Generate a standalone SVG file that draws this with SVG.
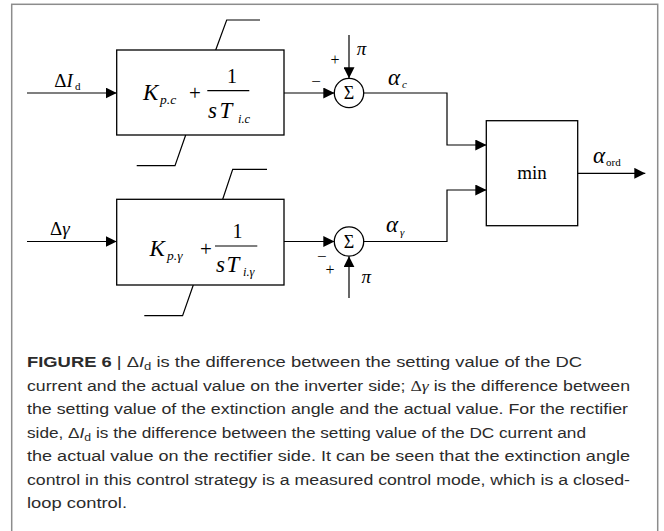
<svg xmlns="http://www.w3.org/2000/svg" width="664" height="531" viewBox="0 0 664 531">
<style>
.frame{fill:none;stroke:#8c8c8c;stroke-width:1.5}
.box{fill:#fff;stroke:#000;stroke-width:1.3}
.ln{fill:none;stroke:#000;stroke-width:1.2}
.arr{fill:none;stroke:#000;stroke-width:1.2;marker-end:url(#ah)}
.m{font-family:"Liberation Serif","DejaVu Serif",serif;fill:#000}
.i{font-style:italic}
.cap{font-family:"Liberation Sans",Arial,sans-serif;font-size:15.5px;fill:#2b2b2b}
.capm{font-family:"Liberation Serif",serif}
</style>
<defs>
<marker id="ah" markerWidth="11" markerHeight="11" refX="11" refY="5.5" orient="auto" markerUnits="userSpaceOnUse">
<path d="M0,0 L11,5.5 L0,11 z" fill="#000"/>
</marker>
</defs>
<rect class="frame" x="11.7" y="4.3" width="646" height="540"/>

<g id="connectors">
<line class="arr" x1="27" y1="93" x2="116.7" y2="93"/>
<line class="arr" x1="27" y1="241.5" x2="116.7" y2="241.5"/>
<line class="arr" x1="284" y1="93" x2="334.3" y2="93"/>
<line class="arr" x1="284" y1="241.5" x2="334.3" y2="241.5"/>
<line class="arr" x1="349" y1="35" x2="349" y2="78.3"/>
<line class="arr" x1="349" y1="298" x2="349" y2="256.2"/>
<polyline class="arr" points="363.7,93 447,93 447,145 486.3,145"/>
<polyline class="arr" points="363.7,241.5 447,241.5 447,190 486.3,190"/>
<line class="arr" x1="577.7" y1="173.3" x2="645.3" y2="173.3"/>
<polyline class="ln" points="215.7,50 226.7,20 260,20"/>
<polyline class="ln" points="185.7,135 175,165.7 136.7,165.7"/>
<polyline class="ln" points="222.7,199.3 232.7,169.3 267,169.3"/>
<polyline class="ln" points="193.3,285 182.6,315.7 144.3,315.7"/>
</g>

<g id="label-dId">
<text class="m" x="54.3" y="87" font-size="19">Δ<tspan class="i">I</tspan></text>
<text class="m" x="75" y="89.5" font-size="11">d</text>
</g>
<g id="label-dgamma">
<text class="m" x="50" y="235" font-size="19">Δ<tspan class="i">γ</tspan></text>
</g>

<g id="pi-current">
<rect class="box" x="116.7" y="50" width="167.3" height="85"/>
<text class="m i" x="143" y="100" font-size="23">K</text>
<text class="m i" x="160" y="104" font-size="13.5">p.c</text>
<text class="m" x="195" y="100" font-size="21" text-anchor="middle">+</text>
<text class="m" x="227" y="83.3" font-size="20">1</text>
<line class="ln" x1="207.3" y1="90.7" x2="249.3" y2="90.7"/>
<text class="m i" x="208" y="118.3" font-size="23" letter-spacing="2.5">sT</text>
<text class="m i" x="238" y="122.7" font-size="12.5">i.c</text>
</g>

<g id="pi-gamma">
<rect class="box" x="116.7" y="199.3" width="167.3" height="85.7"/>
<text class="m i" x="149.5" y="256" font-size="23">K</text>
<text class="m i" x="167" y="260" font-size="13.5">p.γ</text>
<text class="m" x="206" y="256" font-size="21" text-anchor="middle">+</text>
<text class="m" x="232.5" y="238.3" font-size="20">1</text>
<line class="ln" x1="215" y1="246" x2="257.3" y2="246"/>
<text class="m i" x="216" y="271.7" font-size="23" letter-spacing="1.5">sT</text>
<text class="m i" x="243" y="276" font-size="12.5">i.γ</text>
</g>

<g id="sum-current">
<circle class="box" cx="349" cy="93" r="14.7"/>
<text class="m" x="349" y="99" font-size="18" text-anchor="middle">Σ</text>
<text class="m" x="335" y="65" font-size="16" text-anchor="middle">+</text>
<text class="m i" x="356.7" y="55" font-size="19">π</text>
<text class="m" x="316" y="87" font-size="17" text-anchor="middle">−</text>
<text class="m i" x="388" y="85" font-size="23">α</text>
<text class="m i" x="402" y="88" font-size="11">c</text>
</g>

<g id="sum-gamma">
<circle class="box" cx="349" cy="241.5" r="14.7"/>
<text class="m" x="349" y="247.5" font-size="18" text-anchor="middle">Σ</text>
<text class="m" x="321.7" y="262" font-size="17" text-anchor="middle">−</text>
<text class="m" x="330" y="275" font-size="16" text-anchor="middle">+</text>
<text class="m i" x="361.5" y="283" font-size="19">π</text>
<text class="m i" x="386" y="232" font-size="23">α</text>
<text class="m i" x="400" y="236" font-size="11">γ</text>
</g>

<g id="min">
<rect class="box" x="486.3" y="120.7" width="91.4" height="105"/>
<text class="m" x="532" y="179" font-size="19" text-anchor="middle">min</text>
<text class="m i" x="593" y="163" font-size="23">α</text>
<text class="m" x="606" y="166" font-size="11">ord</text>
</g>

<g id="caption">
<text class="cap" x="27" y="367" textLength="555" lengthAdjust="spacingAndGlyphs"><tspan font-weight="bold">FIGURE 6</tspan> | Δ<tspan font-style="italic">I</tspan><tspan font-size="11" dy="3">d</tspan><tspan dy="-3"> is the difference between the setting value of the DC</tspan></text>
<text class="cap" x="27" y="390.5" textLength="603" lengthAdjust="spacingAndGlyphs">current and the actual value on the inverter side; <tspan class="capm">Δ<tspan font-style="italic">γ</tspan></tspan> is the difference between</text>
<text class="cap" x="27" y="414" textLength="601" lengthAdjust="spacingAndGlyphs">the setting value of the extinction angle and the actual value. For the rectifier</text>
<text class="cap" x="27" y="437.5" textLength="559" lengthAdjust="spacingAndGlyphs">side, Δ<tspan font-style="italic">I</tspan><tspan font-size="11" dy="3">d</tspan><tspan dy="-3"> is the difference between the setting value of the DC current and</tspan></text>
<text class="cap" x="27" y="461" textLength="603" lengthAdjust="spacingAndGlyphs">the actual value on the rectifier side. It can be seen that the extinction angle</text>
<text class="cap" x="27" y="484.5" textLength="603" lengthAdjust="spacingAndGlyphs">control in this control strategy is a measured control mode, which is a closed-</text>
<text class="cap" x="27" y="508" textLength="100" lengthAdjust="spacingAndGlyphs">loop control.</text>
</g>
</svg>
